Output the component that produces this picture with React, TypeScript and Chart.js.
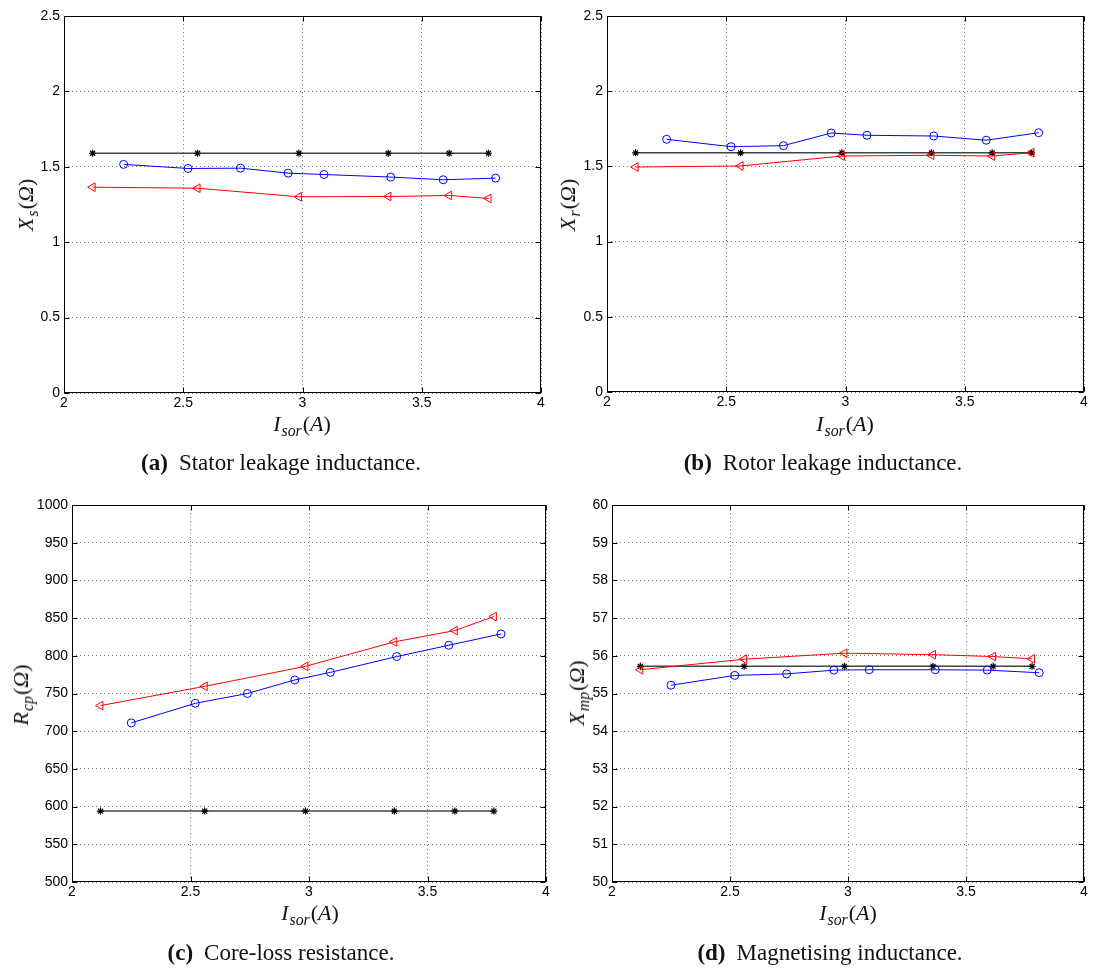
import React, { useEffect, useRef } from "react";
import { Chart, registerables } from "chart.js";

Chart.register(...registerables);

// x positions (stator current I_sor, A)
const xRef = [2.12, 2.56, 2.985, 3.36, 3.615, 3.78]; // black stars and red triangles
const xEst = [2.25, 2.52, 2.74, 2.94, 3.09, 3.37, 3.59, 3.81]; // blue circles

// (a) Stator leakage reactance
const xsBlue = [1.516, 1.489, 1.491, 1.458, 1.449, 1.432, 1.414, 1.425];
const xsRed = [1.365, 1.358, 1.301, 1.303, 1.31, 1.29];
const xsBlack = [1.59, 1.59, 1.59, 1.59, 1.59, 1.59];

// (b) Rotor leakage reactance
const xrBlue = [1.68, 1.631, 1.638, 1.722, 1.707, 1.702, 1.674, 1.724];
const xrRed = [1.496, 1.503, 1.569, 1.574, 1.569, 1.591];
const xrBlack = [1.59, 1.59, 1.59, 1.59, 1.59, 1.59];

// (c) Core-loss resistance
const rcpBlue = [711, 737, 750, 768, 778, 799, 814, 829];
const rcpRed = [734, 759.5, 786, 818.5, 833.5, 852];
const rcpBlack = [594, 594, 594, 594, 594, 594];

// (d) Magnetising reactance
const xmpBlue = [55.22, 55.48, 55.52, 55.62, 55.63, 55.63, 55.62, 55.55];
const xmpRed = [55.63, 55.91, 56.07, 56.03, 55.98, 55.92];
const xmpBlack = [55.72, 55.72, 55.72, 55.72, 55.72, 55.72];

// tick labels
const xTicks = [2, 2.5, 3, 3.5, 4];
const yTicksLeak = [0, 0.5, 1, 1.5, 2, 2.5];
const yTicksCore = [500, 550, 600, 650, 700, 750, 800, 850, 900, 950, 1000];
const yTicksMag = [50, 51, 52, 53, 54, 55, 56, 57, 58, 59, 60];

type PanelCfg = {
  left: number;
  top: number;
  width: number;
  height: number;
  area: { left: number; right: number; top: number; bottom: number };
  blue: number[];
  red: number[];
  black: number[];
  yTicks: number[];
};

const boxPlugin = {
  id: "matlabBox",
  afterDraw(chart: any) {
    const { ctx, chartArea: a, scales } = chart;
    ctx.save();
    ctx.strokeStyle = "#000";
    ctx.lineWidth = 1;
    const l = Math.round(a.left) + 0.5;
    const r = Math.round(a.right) - 0.5;
    const t = Math.round(a.top) + 0.5;
    const b = Math.round(a.bottom) - 0.5;
    ctx.strokeRect(l, t, r - l, b - t);
    const L = 5;
    ctx.beginPath();
    scales.x.ticks.forEach((tk: any) => {
      const px = Math.round(scales.x.getPixelForValue(tk.value)) + 0.5;
      ctx.moveTo(px, b);
      ctx.lineTo(px, b - L);
      ctx.moveTo(px, t);
      ctx.lineTo(px, t + L);
    });
    scales.y.ticks.forEach((tk: any) => {
      const py = Math.round(scales.y.getPixelForValue(tk.value)) + 0.5;
      ctx.moveTo(l, py);
      ctx.lineTo(l + L, py);
      ctx.moveTo(r, py);
      ctx.lineTo(r - L, py);
    });
    ctx.stroke();
    ctx.restore();
  },
};

function Panel({ cfg }: { cfg: PanelCfg }) {
  const ref = useRef<HTMLCanvasElement>(null);
  useEffect(() => {
    const c = ref.current;
    if (!c) return;
    const padTop = cfg.area.top - cfg.top;
    const padRight = cfg.left + cfg.width - cfg.area.right;
    const yWidth = cfg.area.left - cfg.left;
    const xHeight = cfg.top + cfg.height - cfg.area.bottom;
    const tickFont = { family: "'Liberation Sans', Arial, sans-serif", size: 14 };
    const chart = new Chart(c, {
      type: "scatter",
      data: {
        datasets: [
          {
            label: "red",
            data: xRef.map((x, i) => ({ x, y: cfg.red[i] })),
            showLine: true,
            borderColor: "#ff0000",
            borderWidth: 1,
            pointStyle: "triangle",
            pointRotation: -90,
            pointRadius: 5,
            pointBorderColor: "#ff0000",
            pointBackgroundColor: "rgba(0,0,0,0)",
            pointBorderWidth: 1,
            tension: 0,
          },
          {
            label: "blue",
            data: xEst.map((x, i) => ({ x, y: cfg.blue[i] })),
            showLine: true,
            borderColor: "#0000ff",
            borderWidth: 1,
            pointStyle: "circle",
            pointRadius: 4,
            pointBorderColor: "#0000ff",
            pointBackgroundColor: "rgba(0,0,0,0)",
            pointBorderWidth: 1,
            tension: 0,
          },
          {
            label: "black",
            data: xRef.map((x, i) => ({ x, y: cfg.black[i] })),
            showLine: true,
            borderColor: "#444",
            borderWidth: 1.5,
            pointStyle: "star",
            pointRadius: 3.5,
            pointBorderColor: "#000",
            pointBackgroundColor: "#000",
            pointBorderWidth: 1.2,
            tension: 0,
          },
        ],
      },
      options: {
        animation: false,
        responsive: false,
        devicePixelRatio: 1,
        layout: { padding: { top: padTop, right: padRight, left: 0, bottom: 0 } },
        plugins: { legend: { display: false }, tooltip: { enabled: false } },
        events: [],
        scales: {
          x: {
            type: "linear",
            min: 2,
            max: 4,
            afterBuildTicks: (s: any) => {
              s.ticks = xTicks.map((v) => ({ value: v }));
            },
            afterFit: (s: any) => {
              s.height = xHeight;
            },
            ticks: {
              color: "#000",
              font: tickFont,
              padding: 2,
              maxRotation: 0,
              autoSkip: false,
              callback: (v: any) => String(v),
            },
            grid: { color: "rgba(0,0,0,0.55)", lineWidth: 1, drawTicks: false },
            border: { display: false, dash: [1, 3] },
          },
          y: {
            type: "linear",
            min: cfg.yTicks[0],
            max: cfg.yTicks[cfg.yTicks.length - 1],
            afterBuildTicks: (s: any) => {
              s.ticks = cfg.yTicks.map((v) => ({ value: v }));
            },
            afterFit: (s: any) => {
              s.width = yWidth;
            },
            ticks: {
              color: "#000",
              font: tickFont,
              padding: 4,
              autoSkip: false,
              callback: (v: any) => String(v),
            },
            grid: { color: "rgba(0,0,0,0.55)", lineWidth: 1, drawTicks: false },
            border: { display: false, dash: [1, 3] },
          },
        },
      },
      plugins: [boxPlugin],
    } as any);
    return () => chart.destroy();
  }, [cfg]);
  return (
    <canvas
      ref={ref}
      width={cfg.width}
      height={cfg.height}
      style={{ position: "absolute", left: cfg.left, top: cfg.top, width: cfg.width, height: cfg.height }}
    />
  );
}

const panels: PanelCfg[] = [
  {
    left: 0, top: 0, width: 547, height: 420,
    area: { left: 64, right: 541, top: 16, bottom: 393 },
    blue: xsBlue, red: xsRed, black: xsBlack, yTicks: yTicksLeak,
  },
  {
    left: 547, top: 0, width: 547, height: 420,
    area: { left: 607, right: 1084, top: 16, bottom: 392 },
    blue: xrBlue, red: xrRed, black: xrBlack, yTicks: yTicksLeak,
  },
  {
    left: 0, top: 480, width: 552, height: 430,
    area: { left: 72, right: 548, top: 505, bottom: 882 },
    blue: rcpBlue, red: rcpRed, black: rcpBlack, yTicks: yTicksCore,
  },
  {
    left: 552, top: 480, width: 542, height: 430,
    area: { left: 612, right: 1084, top: 505, bottom: 882 },
    blue: xmpBlue, red: xmpRed, black: xmpBlack, yTicks: yTicksMag,
  },
];

const serif = "'Liberation Serif', 'Times New Roman', serif";

function Sub({ children }: { children: React.ReactNode }) {
  return (
    <span style={{ fontSize: "0.72em", position: "relative", top: "0.3em", marginLeft: 1, marginRight: 1 }}>{children}</span>
  );
}

function Title({
  x, y, rotate, children,
}: { x: number; y: number; rotate?: boolean; children: React.ReactNode }) {
  return (
    <div
      style={{
        position: "absolute",
        left: x,
        top: y,
        transform: `translate(-50%, -50%)${rotate ? " rotate(-90deg)" : ""}`,
        whiteSpace: "nowrap",
        fontFamily: serif,
        fontSize: 22,
        lineHeight: 1,
        color: "#111",
      }}
    >
      {children}
    </div>
  );
}

function Caption({ x, y, tag, text }: { x: number; y: number; tag: string; text: string }) {
  return (
    <div
      style={{
        position: "absolute",
        left: x,
        top: y,
        transform: "translate(-50%, -50%)",
        whiteSpace: "nowrap",
        fontFamily: serif,
        fontSize: 23,
        lineHeight: 1,
        color: "#111",
      }}
    >
      <b>{tag}</b>
      <span style={{ marginLeft: 11 }}>{text}</span>
    </div>
  );
}

function Quantity({ sym, sub, unit }: { sym: string; sub: string; unit: string }) {
  return (
    <span>
      <i>{sym}</i>
      <Sub>
        <i>{sub}</i>
      </Sub>
      <span>(</span>
      <i>{unit}</i>
      <span>)</span>
    </span>
  );
}

export default function App() {
  return (
    <div style={{ position: "absolute", left: 0, top: 0, width: 1094, height: 969, background: "#fff", overflow: "hidden" }}>
      {panels.map((p, i) => (
        <Panel key={i} cfg={p} />
      ))}
      <Title x={26} y={205} rotate>
        <Quantity sym="X" sub="s" unit="Ω" />
      </Title>
      <Title x={302} y={424}>
        <Quantity sym="I" sub="sor" unit="A" />
      </Title>
      <Caption x={281} y={462} tag="(a)" text="Stator leakage inductance." />

      <Title x={568} y={205} rotate>
        <Quantity sym="X" sub="r" unit="Ω" />
      </Title>
      <Title x={845} y={424}>
        <Quantity sym="I" sub="sor" unit="A" />
      </Title>
      <Caption x={823} y={462} tag="(b)" text="Rotor leakage inductance." />

      <Title x={21} y={695} rotate>
        <Quantity sym="R" sub="cp" unit="Ω" />
      </Title>
      <Title x={310} y={913}>
        <Quantity sym="I" sub="sor" unit="A" />
      </Title>
      <Caption x={281} y={952} tag="(c)" text="Core-loss resistance." />

      <Title x={577} y={693} rotate>
        <Quantity sym="X" sub="mp" unit="Ω" />
      </Title>
      <Title x={848} y={913}>
        <Quantity sym="I" sub="sor" unit="A" />
      </Title>
      <Caption x={830} y={952} tag="(d)" text="Magnetising inductance." />
    </div>
  );
}
